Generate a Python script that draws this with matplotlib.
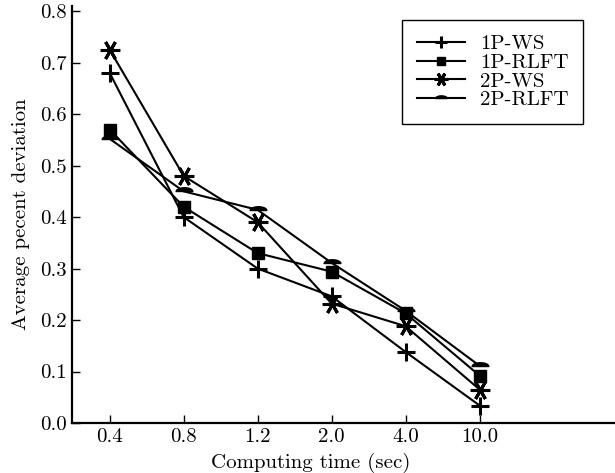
import numpy as np
import matplotlib
matplotlib.use("Agg")
import matplotlib.pyplot as plt
from matplotlib.path import Path

plt.rcParams['font.family'] = ['cmr10', 'DejaVu Serif']
plt.rcParams['axes.formatter.use_mathtext'] = True

times = ['0.4', '0.8', '1.2', '2.0', '4.0', '10.0']
ws_1p = [0.68, 0.40, 0.30, 0.246, 0.138, 0.034]
rlft_1p = [0.57, 0.42, 0.33, 0.294, 0.213, 0.092]
ws_2p = [0.725, 0.48, 0.39, 0.232, 0.188, 0.065]
rlft_2p = [0.552, 0.45, 0.414, 0.311, 0.218, 0.111]
yticks = [0.0, 0.1, 0.2, 0.3, 0.4, 0.5, 0.6, 0.7, 0.8]

# half ellipse marker (dome)
t = np.linspace(0, np.pi, 30)
dome = Path(np.column_stack([np.cos(t), 0.45 * np.sin(t)]).tolist() + [[1, 0]], closed=True)

fs = 15
fig = plt.figure(figsize=(6.15, 4.73), dpi=100)
ax = fig.add_axes([0.117, 0.1057, 0.883, 0.8816])
x = np.arange(len(times))

ax.plot(x, ws_1p, color='black', lw=1.5, marker='+', ms=13, mew=2.2, label='1P-WS')
ax.plot(x, rlft_1p, color='black', lw=1.5, marker='s', ms=9, label='1P-RLFT')
ax.plot(x, ws_2p, color='black', lw=1.5, marker=(6, 2, 90), ms=14, mew=2.2, label='2P-WS')
ax.plot(x, rlft_2p, color='black', lw=1.5, marker=dome, ms=12, label='2P-RLFT')

ax.set_xlim(-0.51, 6.83)
ax.set_ylim(0, 0.81)
ax.set_xticks(x)
ax.set_xticklabels(times)
ax.set_yticks(yticks)
ax.set_yticklabels(['%.1f' % v for v in yticks])
ax.tick_params(direction='in', length=6, width=1, labelsize=fs, colors='black', pad=4)
ax.spines['top'].set_visible(False)
ax.spines['right'].set_visible(False)
ax.spines['left'].set_linewidth(1.6)
ax.spines['bottom'].set_linewidth(1.6)
ax.set_xlabel('Computing time (sec)', fontsize=fs)
ax.xaxis.set_label_coords(0.44, -0.072)
ax.set_ylabel('Average pecent deviation', fontsize=fs, labelpad=7)

leg = ax.legend(loc='upper right', bbox_to_anchor=(0.941, 0.966), fontsize=fs, fancybox=False,
                edgecolor='black', framealpha=1, handlelength=2.3, labelspacing=0.0,
                borderpad=0.7, handletextpad=0.72, markerscale=0.7, borderaxespad=0)
leg.get_frame().set_linewidth(1.0)

fig.savefig('out.png', dpi=100)
